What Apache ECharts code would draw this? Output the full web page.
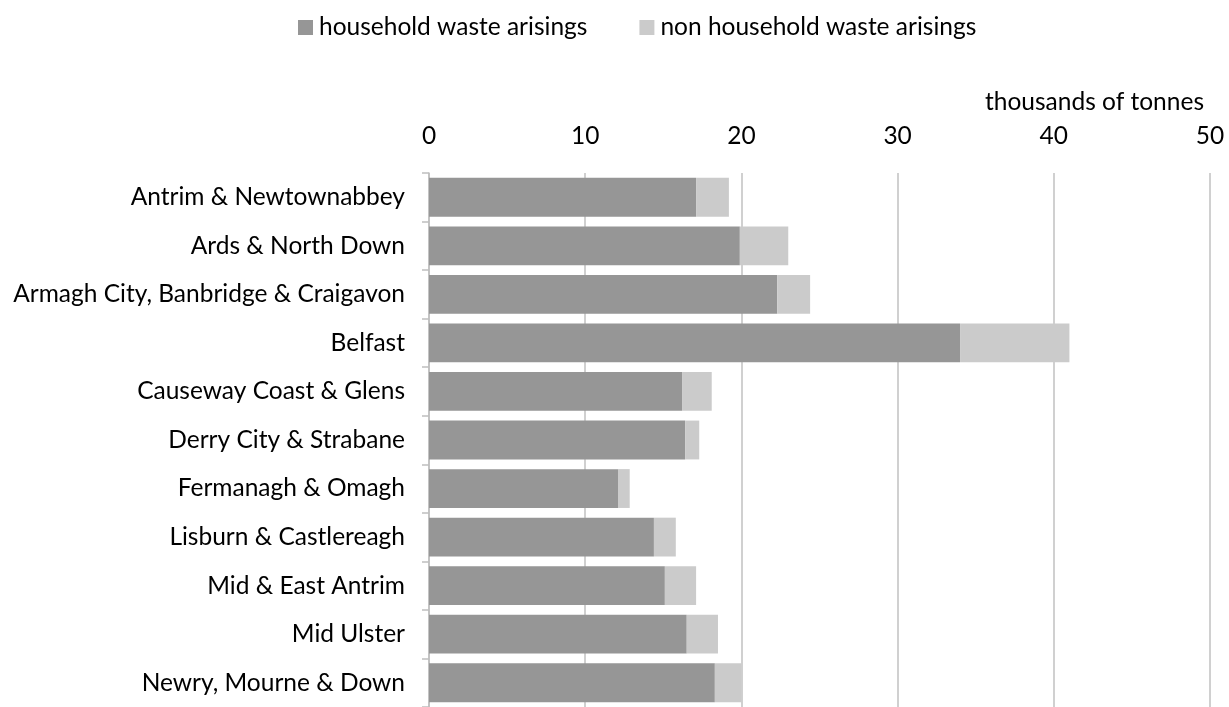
<!DOCTYPE html>
<html>
<head>
<meta charset="utf-8">
<script src="https://cdn.jsdelivr.net/npm/echarts@6/dist/echarts.min.js"></script>
<style>
html,body{margin:0;padding:0;background:#fff;}
#chart{width:1229px;height:707px;}
</style>
</head>
<body>
<div id="chart"></div>
<script>
const categories = [
  "Antrim & Newtownabbey",
  "Ards & North Down",
  "Armagh City, Banbridge & Craigavon",
  "Belfast",
  "Causeway Coast & Glens",
  "Derry City & Strabane",
  "Fermanagh & Omagh",
  "Lisburn & Castlereagh",
  "Mid & East Antrim",
  "Mid Ulster",
  "Newry, Mourne & Down"
];
const householdWaste = [17.1, 19.9, 22.3, 34.0, 16.2, 16.4, 12.1, 14.4, 15.1, 16.5, 18.3];
const nonHouseholdWaste = [2.1, 3.1, 2.1, 7.0, 1.9, 0.9, 0.75, 1.4, 2.0, 2.0, 1.7];
const seriesNames = ["household waste arisings", "non household waste arisings"];
const axisUnit = "thousands of tonnes";

const FONT = "Lato";
const FS = 24.5;
const chart = echarts.init(document.getElementById('chart'));
chart.setOption({
  animation: false,
  textStyle: { fontFamily: FONT },
  legend: {
    top: 10,
    left: 293,
    itemWidth: 15,
    itemHeight: 15,
    itemGap: 52,
    icon: 'rect',
    textStyle: { fontFamily: FONT, fontSize: FS, color: '#000', padding: [0, 0, 0, 1] },
    data: seriesNames
  },
  title: {
    text: axisUnit,
    right: 20,
    top: 85,
    textStyle: { fontFamily: FONT, fontSize: FS, fontWeight: 'normal', color: '#000' }
  },
  grid: { left: 429, right: 19, top: 173, height: 538, containLabel: false },
  xAxis: {
    type: 'value',
    position: 'top',
    min: 0, max: 50, interval: 10,
    axisLine: { show: false },
    axisTick: { show: false },
    axisLabel: { fontFamily: FONT, fontSize: FS, color: '#000', margin: 24 },
    splitLine: { show: true, lineStyle: { color: '#c0c0c0', width: 1.5 } }
  },
  yAxis: {
    type: 'category',
    inverse: true,
    data: categories,
    axisLine: { show: true, lineStyle: { color: '#bfbfbf', width: 1.5 } },
    axisTick: { show: true, length: 7, lineStyle: { color: '#bfbfbf', width: 1.5 } },
    axisLabel: { fontFamily: FONT, fontSize: FS, color: '#000', margin: 24 }
  },
  series: [
    {
      name: seriesNames[0], type: 'bar', stack: 'total',
      data: householdWaste, barCategoryGap: '20%',
      itemStyle: { color: '#969696' }
    },
    {
      name: seriesNames[1], type: 'bar', stack: 'total',
      data: nonHouseholdWaste, barCategoryGap: '20%',
      itemStyle: { color: '#cbcbcb' }
    }
  ]
});
</script>
</body>
</html>
